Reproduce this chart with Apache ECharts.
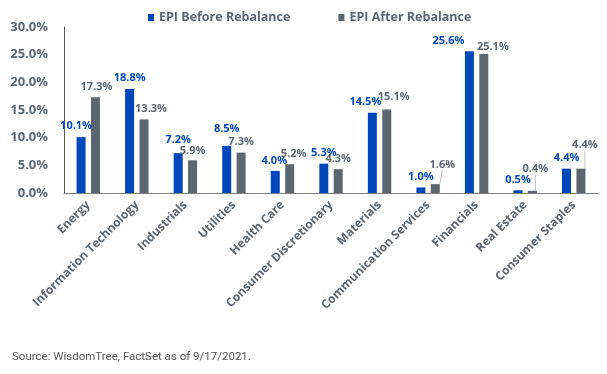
<!DOCTYPE html>
<html>
<head>
<meta charset="utf-8">
<script src="https://cdn.jsdelivr.net/npm/echarts@6/dist/echarts.min.js"></script>
<style>
  html, body { margin: 0; padding: 0; background: #fff; }
  #chart { width: 607px; height: 374px; }
</style>
</head>
<body>
<div id="chart"></div>
<script>
const categories = ['Energy', 'Information Technology', 'Industrials', 'Utilities', 'Health Care',
  'Consumer Discretionary', 'Materials', 'Communication Services', 'Financials', 'Real Estate', 'Consumer Staples'];
const beforeValues = [10.1, 18.8, 7.2, 8.5, 4.0, 5.3, 14.5, 1.0, 25.6, 0.5, 4.4];
const afterValues = [17.3, 13.3, 5.9, 7.3, 5.2, 4.3, 15.1, 1.6, 25.1, 0.4, 4.4];
const seriesNames = ['EPI Before Rebalance', 'EPI After Rebalance'];
const yMin = 0, yMax = 30, yStep = 5;
const sourceText = 'Source: WisdomTree, FactSet as of 9/17/2021.';

// label nudges (dx, dy) relative to default top placement
const beforeLabelShift = [[-5,-1],[0,-1],[0,-3],[0,-7],[-1,0],[0,0],[-7,0],[0,0],[-21,0],[0,0],[0,0]];
const afterLabelShift = [[1,0],[7,0],[0,1],[0,0],[4,0],[0,0],[7,-2],[7,-9],[9,3],[3,-11],[4,-13]];
const afterLeader = [false,false,false,false,false,false,false,true,false,true,true];

const BLUE = '#0047BB';
const GREY = '#5B6670';
const FONT = 'Open Sans';

const chart = echarts.init(document.getElementById('chart'), null, { renderer: 'canvas' });

function mkData(vals, leaders) {
  return vals.map((v, i) => leaders && leaders[i]
    ? { value: v, labelLine: { show: true } }
    : { value: v });
}

chart.setOption({
  animation: false,
  textStyle: { fontFamily: FONT },
  legend: {
    top: 6, left: 143,
    itemWidth: 6, itemHeight: 7, itemGap: 48,
    icon: 'rect',
    textStyle: { color: GREY, fontSize: 12.5, fontWeight: 'bold', fontFamily: FONT },
    data: seriesNames
  },
  grid: { left: 64, right: 9, top: 27, bottom: 181, containLabel: false },
  xAxis: {
    type: 'category',
    data: categories,
    axisLine: { lineStyle: { color: '#7f7f7f', width: 1 } },
    axisTick: { show: false },
    axisLabel: { rotate: 45, margin: 10, interval: 0, color: GREY, fontSize: 12, fontWeight: 'bold', fontFamily: FONT }
  },
  yAxis: {
    type: 'value', min: yMin, max: yMax, interval: yStep,
    axisLine: { show: true, lineStyle: { color: '#595959', width: 1 } },
    axisTick: { show: false },
    splitLine: { show: false },
    axisLabel: { margin: 16, color: GREY, fontSize: 13, fontWeight: 'bold', fontFamily: FONT,
      formatter: v => v.toFixed(1) + '%' }
  },
  series: [
    {
      name: seriesNames[0], type: 'bar', barWidth: 9, barGap: '60%',
      itemStyle: { color: BLUE },
      data: mkData(beforeValues),
      label: { show: true, position: 'top', distance: 5, color: BLUE, fontSize: 11, fontWeight: 'bold', fontFamily: FONT,
        formatter: p => p.value.toFixed(1) + '%' },
      labelLayout: p => ({ dx: beforeLabelShift[p.dataIndex][0], dy: beforeLabelShift[p.dataIndex][1] })
    },
    {
      name: seriesNames[1], type: 'bar', barWidth: 9,
      itemStyle: { color: GREY },
      data: mkData(afterValues, afterLeader),
      label: { show: true, position: 'top', distance: 5, color: GREY, fontSize: 11, fontWeight: 'bold', fontFamily: FONT,
        formatter: p => p.value.toFixed(1) + '%' },
      labelLine: { show: false, lineStyle: { color: '#bfbfbf', width: 1 } },
      labelLayout: p => ({ dx: afterLabelShift[p.dataIndex][0], dy: afterLabelShift[p.dataIndex][1] })
    }
  ],
  graphic: [{
    type: 'text', left: 12, top: 351,
    style: { text: sourceText, fill: '#555555', fontSize: 11.5, fontFamily: 'Roboto' }
  }]
});
</script>
</body>
</html>
